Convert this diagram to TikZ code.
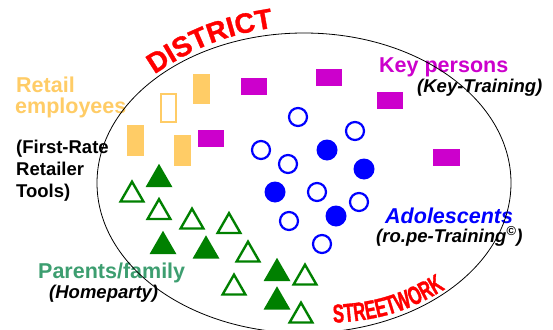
\documentclass[tikz,border=0pt]{standalone}
\usepackage{fontspec}
\setmainfont{Liberation Sans}
\newfontfamily\titlefont{Liberation Sans Bold}[FakeBold=1.2]
\newfontfamily\narrowfont{Liberation Sans Bold}[FakeStretch=0.64, FakeBold=1.3]
\usetikzlibrary{decorations.text}

\tikzset{
  fulltri/.pic={\fill[mygreen] (-13.5,-11.7) -- (13.5,-11.7) -- (0,11.7) -- cycle;},
  opentri/.pic={\draw[mygreen, line width=2.4pt] (-11.4,-10.5) -- (11.4,-10.5) -- (0,9.3) -- cycle;}
}

\begin{document}
\begin{tikzpicture}[x=1pt, y=1pt,
  bigtext/.style={font=\bfseries\fontsize{21.5}{24}\selectfont, anchor=base west, inner sep=0pt},
  smalltext/.style={font=\bfseries\fontsize{18.5}{22}\selectfont, anchor=base west, inner sep=0pt},
  slanttext/.style={font=\bfseries\itshape\fontsize{18.5}{22}\selectfont, anchor=base west, inner sep=0pt},
  shop/.style={fill=myorange},
  key/.style={fill=mymagenta},
  ring/.style={draw=myblue, line width=2.2pt},
  dot/.style={fill=myblue}]

% Define colors
\definecolor{myorange}{RGB}{255, 204, 102}
\definecolor{mymagenta}{RGB}{204, 0, 204}
\definecolor{myblue}{RGB}{0, 0, 255}
\definecolor{mygreen}{RGB}{0, 128, 0}
\definecolor{myfamily}{RGB}{61, 158, 112}

\useasboundingbox (0,0) rectangle (553,-329);

% Retail employees
\fill[shop] (193,-74) rectangle (210,-104);
\fill[shop] (127,-125) rectangle (144,-156);
\fill[shop] (174,-135) rectangle (191,-166);
\draw[myorange, line width=1.8pt] (161,-94) rectangle (176,-122);

% Key persons
\fill[key] (240.5,-78) rectangle (266.5,-95);
\fill[key] (198,-130) rectangle (224,-147);
\fill[key] (316,-69) rectangle (342,-86);
\fill[key] (377,-92) rectangle (403,-109);
\fill[key] (433,-149) rectangle (460,-166);

% Adolescents
\draw[ring] (298,-117) circle (9pt);
\draw[ring] (355,-131) circle (9pt);
\draw[ring] (261,-150) circle (9pt);
\draw[ring] (288,-164) circle (9pt);
\draw[ring] (317,-192) circle (9pt);
\draw[ring] (359,-202) circle (9pt);
\draw[ring] (289,-221) circle (9pt);
\draw[ring] (322,-244) circle (9pt);
\fill[dot] (327,-150) circle (10.5pt);
\fill[dot] (364,-169) circle (10.5pt);
\fill[dot] (275,-192) circle (10.5pt);
\fill[dot] (336,-216) circle (10.5pt);

% Parents/family
\pic at (159,-175.5) {fulltri};
\pic at (163,-242.5) {fulltri};
\pic at (206,-247) {fulltri};
\pic at (277,-269.5) {fulltri};
\pic at (277,-298) {fulltri};
\pic at (132,-191) {opentri};
\pic at (159,-208.5) {opentri};
\pic at (192,-218) {opentri};
\pic at (229,-222.5) {opentri};
\pic at (248,-251) {opentri};
\pic at (234,-284) {opentri};
\pic at (305,-274) {opentri};
\pic at (301,-312) {opentri};

% Add the labels
\node[bigtext, myorange] (retail) at (16,-92) {Retail};
\node[bigtext, myorange] (employees) at (15,-113) {employees};
\node[smalltext] (firstrate) at (16,-153) {(First-Rate};
\node[smalltext] (retailer) at (16,-175) {Retailer};
\node[smalltext] (tools) at (16,-197) {Tools)};
\node[bigtext, mymagenta] (keypersons) at (379,-72) {Key persons};
\node[slanttext] (keytraining) at (417,-92) {(Key-Training)};
\node[bigtext, myblue, font=\bfseries\itshape\fontsize{21.5}{24}\selectfont] (adolescents) at (385,-223) {Adolescents};
\node[slanttext] (ropetraining) at (376,-242) {(ro.pe-Training\textsuperscript{©})};
\node[bigtext, myfamily] (parents) at (38,-278) {Parents/family};
\node[slanttext] (homeparty) at (49,-298) {(Homeparty)};

% Curved titles
\path[decorate, decoration={text along path, text align=center, text color=red,
  text={|\titlefont\fontsize{28}{28}\selectfont|DISTRICT}}]
  (145,-81) to[bend left=14] (285,-26);
\path[decorate, decoration={text along path, text align=center, text color=red,
  text={|\narrowfont\fontsize{26}{26}\selectfont|STREETWORK}}]
  (322,-323) to[bend right=16] (455,-283);

% Draw the district
\draw[line width=0.8pt] (304,-183) ellipse [x radius=207pt, y radius=150pt];

\end{tikzpicture}
\end{document}
